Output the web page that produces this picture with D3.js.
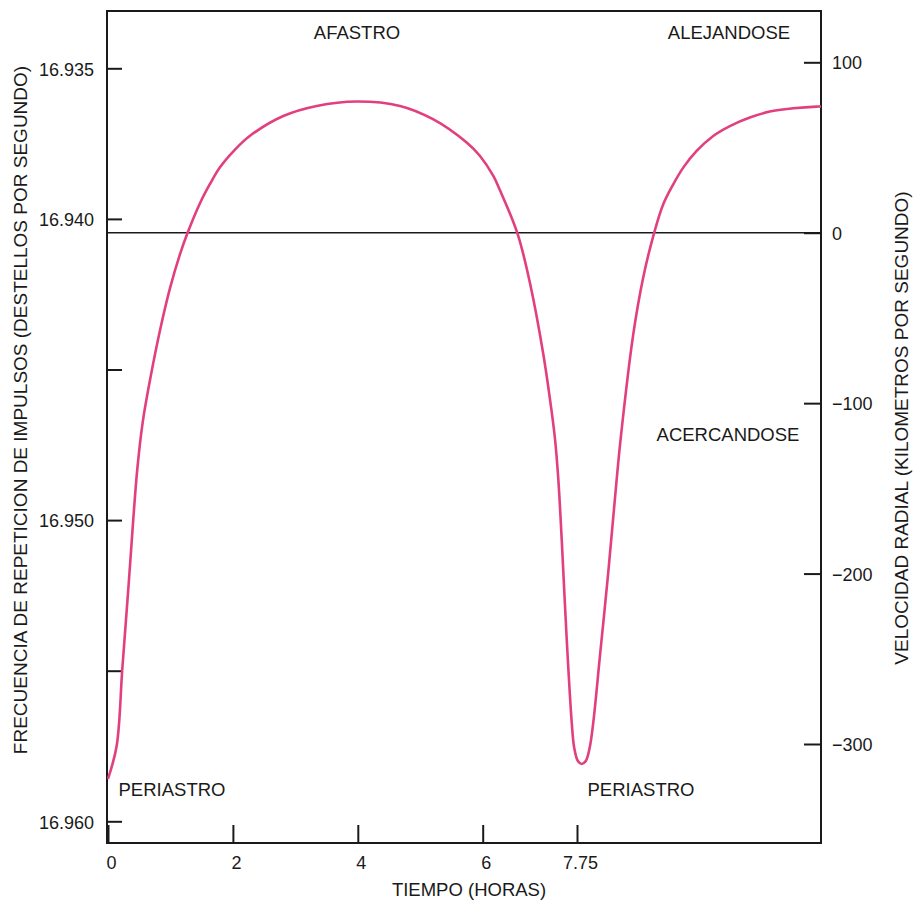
<!DOCTYPE html>
<html>
<head>
<meta charset="utf-8">
<script src="https://cdn.jsdelivr.net/npm/d3@7"></script>
<style>
  body { margin: 0; background: #fff; }
  svg text { font-family: "Liberation Sans", Arial, Helvetica, sans-serif; fill: #1a1a1a; }
</style>
</head>
<body>
<div id="chart"></div>
<script>
// time in hours, radial velocity in km/s
var hours = [0, 0.139, 0.229, 0.325, 0.405, 0.469, 0.556, 0.681, 0.833, 0.993,
    1.153, 1.270, 1.473, 1.633, 1.793, 2.034, 2.274, 2.807, 3.342, 3.982,
    4.676, 5.204, 5.743, 5.957, 6.197, 6.321, 6.646, 6.878, 7.125, 7.281,
    7.342, 7.403, 7.466, 7.559, 7.652, 7.697, 7.762, 7.825, 7.893, 7.954,
    8.011, 8.118, 8.251, 8.350, 8.449, 8.652, 8.812, 8.983, 9.132, 9.292,
    9.452, 9.667, 9.933, 10.200, 10.520, 10.840, 11.214, 11.588, 11.66];
var velocity = [-320.5, -301.0, -256.0, -209.1, -168.0, -138.7, -111.1, -84.8, -57.2, -32.5,
    -12.6, -0.5, 17.3, 28.6, 38.4, 48.8, 56.9, 68.5, 74.4, 77.0,
    74.4, 66.6, 52.9, 45.0, 33.3, 24.9, -0.5, -29.6, -71.3, -105.3,
    -121.1, -144.6, -179.8, -238.4, -287.3, -302.0, -309.8, -311.7, -309.8, -302.0,
    -287.3, -248.2, -199.3, -159.2, -121.1, -59.5, -26.1, -0.5, 16.7, 28.4,
    38.2, 48.0, 56.8, 62.6, 67.6, 71.1, 73.0, 74.0, 74.0];

var xTicks = [0, 2, 4, 6, 7.75];
var xTickLabels = ["0", "2", "4", "6", "7.75"];
var freqTicks = [16.935, 16.940, 16.945, 16.950, 16.955, 16.960];
var freqTickLabels = ["16.935", "16.940", "", "16.950", "", "16.960"];
var velTicks = [100, 0, -100, -200, -300];

var width = 913, height = 903;
var frameLeft = 107, frameRight = 821, frameTop = 11, frameBottom = 843;

var svg = d3.select("#chart").append("svg")
    .attr("width", width)
    .attr("height", height);

// scales (the printed time axis is not quite uniform around 7.75 h)
var x = d3.scaleLinear().domain([0, 6, 7.75, 11.66]).range([108, 482.7, 577, frameRight]);
var yVel = d3.scaleLinear().domain([-300, 100]).range([744, 62.3]);
var yFreq = d3.scaleLinear().domain([16.935, 16.960]).range([68.3, 821.3]);

// frame
svg.append("rect")
    .attr("x", frameLeft).attr("y", frameTop)
    .attr("width", frameRight - frameLeft).attr("height", frameBottom - frameTop)
    .attr("fill", "none")
    .attr("stroke", "#1a1a1a")
    .attr("stroke-width", 2);

// zero velocity line
svg.append("line")
    .attr("x1", frameLeft).attr("x2", frameRight)
    .attr("y1", yVel(0)).attr("y2", yVel(0))
    .attr("stroke", "#1a1a1a")
    .attr("stroke-width", 1.6);

// axes
var axisL = svg.append("g")
    .attr("transform", "translate(" + frameLeft + ",0)")
    .call(d3.axisLeft(yFreq).tickValues(freqTicks)
        .tickFormat(function (d, i) { return freqTickLabels[i]; })
        .tickSize(-15).tickSizeOuter(0).tickPadding(13));

var axisR = svg.append("g")
    .attr("transform", "translate(" + frameRight + ",0)")
    .call(d3.axisRight(yVel).tickValues(velTicks)
        .tickFormat(d3.format("d"))
        .tickSize(-17).tickSizeOuter(0).tickPadding(11));

var axisB = svg.append("g")
    .attr("transform", "translate(0," + frameBottom + ")")
    .call(d3.axisBottom(x).tickValues(xTicks)
        .tickFormat(function (d, i) { return xTickLabels[i]; })
        .tickSize(-18).tickSizeOuter(0).tickPadding(13));

[axisL, axisR, axisB].forEach(function (g) {
    g.select(".domain").remove();
    g.selectAll(".tick line").attr("stroke", "#1a1a1a").attr("stroke-width", 2);
    g.selectAll(".tick text").attr("font-size", 18).attr("fill", "#1a1a1a");
});
axisL.selectAll(".tick text").attr("dy", "0.38em");
axisR.selectAll(".tick text").attr("dy", "0.36em");
axisB.selectAll(".tick text").attr("dx", 3);

// curve
var pts = hours.map(function (h, i) { return [h, velocity[i]]; });
var line = d3.line()
    .x(function (d) { return x(d[0]); })
    .y(function (d) { return yVel(d[1]); })
    .curve(d3.curveCatmullRom.alpha(0.5));

svg.append("path")
    .datum(pts)
    .attr("d", line)
    .attr("fill", "none")
    .attr("stroke", "#e23f7e")
    .attr("stroke-width", 2.6)
    .attr("stroke-linejoin", "round");

// annotations
var notes = [
    {t: "AFASTRO", x: 357, y: 39},
    {t: "ALEJANDOSE", x: 729, y: 39},
    {t: "ACERCANDOSE", x: 728, y: 441},
    {t: "PERIASTRO", x: 172, y: 796},
    {t: "PERIASTRO", x: 641, y: 796}
];
svg.selectAll(".note").data(notes).enter().append("text")
    .attr("class", "note")
    .attr("x", function (d) { return d.x; })
    .attr("y", function (d) { return d.y; })
    .attr("text-anchor", "middle")
    .attr("font-size", 18.5)
    .text(function (d) { return d.t; });

// axis titles
svg.append("text")
    .attr("x", 469).attr("y", 896)
    .attr("text-anchor", "middle")
    .attr("font-size", 18.5)
    .text("TIEMPO (HORAS)");

svg.append("text")
    .attr("transform", "translate(27,410) rotate(-90)")
    .attr("text-anchor", "middle")
    .attr("font-size", 19)
    .text("FRECUENCIA DE REPETICION DE IMPULSOS (DESTELLOS POR SEGUNDO)");

svg.append("text")
    .attr("transform", "translate(908,428) rotate(-90)")
    .attr("text-anchor", "middle")
    .attr("font-size", 19)
    .text("VELOCIDAD RADIAL (KILOMETROS POR SEGUNDO)");
</script>
</body>
</html>
